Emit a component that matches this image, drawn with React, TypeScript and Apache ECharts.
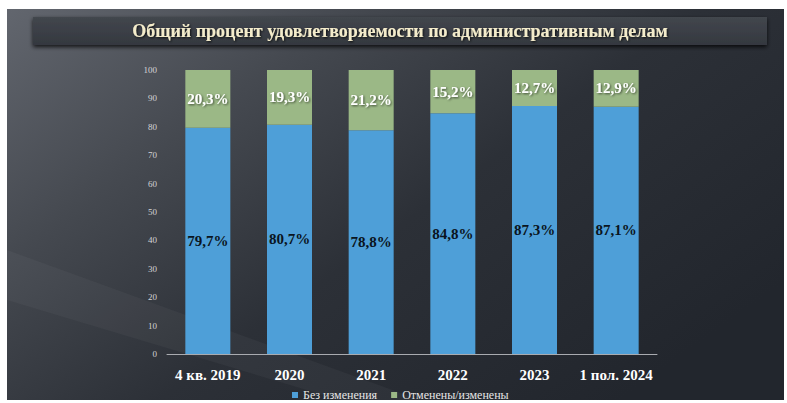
import React, { useEffect, useRef } from "react";
import * as echarts from "echarts";

const titleText = "Общий процент удовлетворяемости по административным делам";
const categories = ["4 кв. 2019", "2020", "2021", "2022", "2023", "1 пол. 2024"];
const unchanged = [79.7, 80.7, 78.8, 84.8, 87.3, 87.1];
const cancelled = [20.3, 19.3, 21.2, 15.2, 12.7, 12.9];
const seriesNames = ["Без изменения", "Отменены/изменены"];
const yTicks = { min: 0, max: 100, interval: 10 };

const SERIF = '"Liberation Serif", "DejaVu Serif", serif';
const fmt = (v: number) => v.toFixed(1).replace(".", ",") + "%";

export default function App() {
  const ref = useRef<HTMLDivElement>(null);
  useEffect(() => {
    if (!ref.current) return;
    const chart = echarts.init(ref.current, undefined, { renderer: "svg" });
    chart.setOption({
      animation: false,
      backgroundColor: "#ffffff",
      graphic: [
        {
          type: "rect",
          z: -10,
          shape: { x: 7, y: 9, width: 777, height: 391 },
          style: {
            fill: new echarts.graphic.LinearGradient(0, 0, 1, 0.7, [
              { offset: 0, color: "#62666e" },
              { offset: 0.3, color: "#454950" },
              { offset: 0.6, color: "#2c3037" },
              { offset: 1, color: "#22262d" },
            ]),
          },
          silent: true,
        },
        {
          type: "polygon",
          z: -9,
          shape: { points: [[7, 250], [7, 300], [340, 400], [420, 400]] },
          style: { fill: "rgba(255,255,255,0.035)" },
          silent: true,
        },
        {
          type: "rect",
          z: -8,
          shape: { x: 33, y: 17, width: 734, height: 28 },
          style: {
            fill: new echarts.graphic.LinearGradient(0, 0, 0, 1, [
              { offset: 0, color: "#42464d" },
              { offset: 1, color: "#34383f" },
            ]),
            shadowBlur: 4,
            shadowOffsetY: 2,
            shadowColor: "rgba(0,0,0,0.8)",
          },
          silent: true,
        },
        {
          type: "text",
          z: 10,
          x: 400,
          y: 31,
          style: {
            text: titleText,
            fill: "#f4eccb",
            font: `bold 18px ${SERIF}`,
            align: "center",
            verticalAlign: "middle",
            textShadowColor: "rgba(0,0,0,0.8)",
            textShadowBlur: 2,
            textShadowOffsetX: 1,
            textShadowOffsetY: 1,
          },
        },
      ],
      legend: {
        data: seriesNames,
        left: 290,
        top: 387,
        itemWidth: 6,
        itemHeight: 6,
        itemGap: 14,
        icon: "rect",
        padding: 2,
        textStyle: { color: "#e6e6e6", fontFamily: SERIF, fontSize: 12 },
      },
      grid: { left: 167, right: 130, top: 70, bottom: 49 },
      xAxis: {
        type: "category",
        data: categories,
        axisLine: { lineStyle: { color: "#a9abb0", width: 1 } },
        axisTick: { show: false },
        axisLabel: {
          interval: 0,
          color: "#ffffff",
          fontFamily: SERIF,
          fontWeight: "bold",
          fontSize: 15,
          margin: 13,
        },
      },
      yAxis: {
        type: "value",
        min: yTicks.min,
        max: yTicks.max,
        interval: yTicks.interval,
        splitLine: { show: false },
        axisLine: { show: false },
        axisTick: { show: false },
        axisLabel: { color: "#d4d4d6", fontFamily: SERIF, fontSize: 9, margin: 10 },
      },
      series: [
        {
          name: seriesNames[0],
          type: "bar",
          stack: "total",
          barWidth: 45,
          data: unchanged,
          itemStyle: { color: "#4e9fd8" },
          label: {
            show: true,
            position: "inside",
            formatter: (p: any) => fmt(p.value),
            color: "#0a1420",
            fontFamily: SERIF,
            fontWeight: "bold",
            fontSize: 15,
          },
        },
        {
          name: seriesNames[1],
          type: "bar",
          stack: "total",
          barWidth: 45,
          data: cancelled,
          itemStyle: { color: "#9bb886" },
          label: {
            show: true,
            position: "inside",
            formatter: (p: any) => fmt(p.value),
            color: "#ffffff",
            fontFamily: SERIF,
            fontWeight: "bold",
            fontSize: 15,
            textShadowColor: "rgba(0,0,0,0.6)",
            textShadowBlur: 2,
            textShadowOffsetX: 1,
            textShadowOffsetY: 1,
          },
        },
      ],
    });
    return () => chart.dispose();
  }, []);
  return (
    <div
      ref={ref}
      style={{ position: "fixed", left: 0, top: 0, width: 787, height: 403 }}
    />
  );
}
